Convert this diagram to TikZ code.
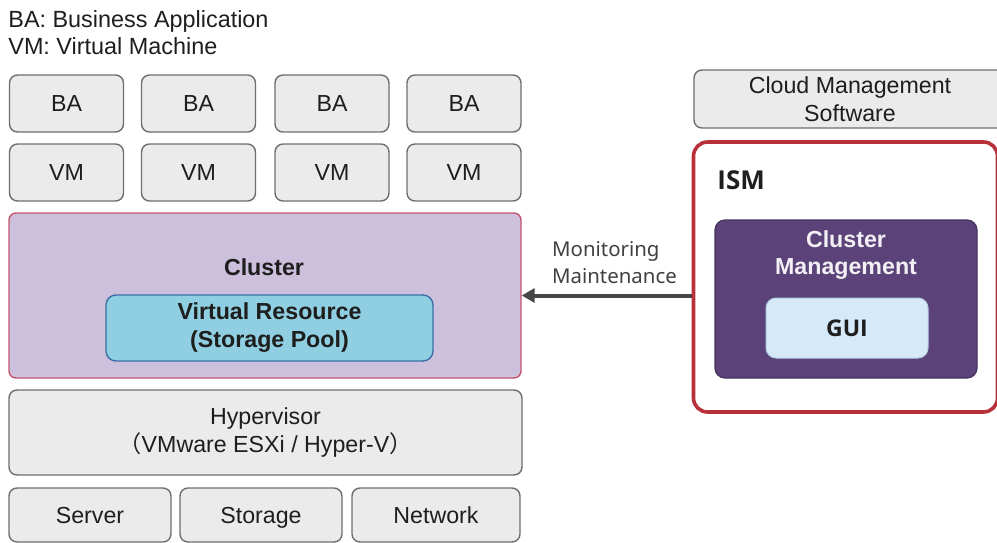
\documentclass[tikz,border=0pt]{standalone}
\usepackage{fontspec}
\setmainfont{Liberation Sans}
\newfontfamily\notofont{Noto Sans}
\newfontfamily\openfont{Open Sans}
\newfontfamily\cjk{Noto Sans CJK JP}
\usetikzlibrary{arrows.meta, positioning}

\definecolor{boxfill}{HTML}{EBEBEB}
\definecolor{boxline}{HTML}{6E6E6E}
\definecolor{ink}{HTML}{1E1E1E}
\definecolor{clusterfill}{HTML}{CCC0DC}
\definecolor{clusterline}{HTML}{C2566E}
\definecolor{poolfill}{HTML}{8FCFE1}
\definecolor{poolline}{HTML}{3C6FA4}
\definecolor{ismline}{HTML}{B8303A}
\definecolor{mgmtfill}{HTML}{5B4279}
\definecolor{mgmtline}{HTML}{45325E}
\definecolor{guifill}{HTML}{D6E9F9}
\definecolor{guiline}{HTML}{B4CDE4}
\definecolor{arrowgray}{HTML}{474747}

\newcommand{\bodyfont}{\fontsize{11.6}{14}\selectfont}

\begin{document}
\begin{tikzpicture}[
  x=0.5pt, y=-0.5pt,
  box/.style={draw=boxline, fill=boxfill, rounded corners=4pt, line width=0.7pt,
              inner sep=0pt, align=center, text=ink, font=\bodyfont},
  oneline/.style={text height=8.4pt, text depth=0.3pt},
  cluster/.style={draw=clusterline, fill=clusterfill, rounded corners=3.5pt,
              line width=0.7pt, inner sep=0pt},
  pool/.style={draw=poolline, fill=poolfill, rounded corners=5pt, line width=0.7pt,
              inner sep=0pt, align=center, text=ink, font=\bodyfont\bfseries},
  ism/.style={draw=ismline, rounded corners=7pt, line width=1.8pt, inner sep=0pt},
  mgmt/.style={draw=mgmtline, fill=mgmtfill, rounded corners=5pt, line width=0.6pt,
              inner sep=0pt},
  gui/.style={draw=guiline, fill=guifill, rounded corners=5pt, line width=0.5pt,
              inner sep=0pt, align=center, text=ink, font=\openfont\fontsize{11.5}{14}\selectfont\bfseries},
  arr/.style={-{Triangle[length=6.5pt, width=7pt]}, line width=2pt, draw=arrowgray}
]
  \useasboundingbox (0,0) rectangle (997,542);
  \clip (0,0) rectangle (997,542);

  % legend
  \node[anchor=north west, align=left, inner sep=0pt, text=ink,
        font=\fontsize{11.7}{13.5}\selectfont] (legend) at (8,10)
        {BA: Business Application\\VM: Virtual Machine};

  % application and VM rows
  \foreach \i/\cx in {1/66.5, 2/198.5, 3/332, 4/464} {
    \node[box, oneline, minimum width=57pt, minimum height=28.5pt] (ba\i) at (\cx,103.5) {BA};
    \node[box, oneline, minimum width=57pt, minimum height=28.5pt] (vm\i) at (\cx,172.5) {VM};
  }

  % cluster
  \node[cluster, minimum width=256pt, minimum height=82.5pt] (cl) at (265,295.5) {};
  \node[font=\bodyfont\bfseries, text=ink] (cltitle) at (264,267) {Cluster};
  \node[pool, minimum width=163.5pt, minimum height=33pt] (vr) at (269.5,328)
        {Virtual Resource\\(Storage Pool)};

  % hypervisor and hardware
  \node[box, minimum width=256.5pt, minimum height=42.5pt] (hv) at (265.5,432.5)
        {Hypervisor\\{\cjk （}VMware ESXi / Hyper-V{\cjk ）}};
  \node[box, oneline, minimum width=81pt, minimum height=27pt] (srv) at (90,515) {Server};
  \node[box, oneline, minimum width=81pt, minimum height=27pt] (sto) at (261,515) {Storage};
  \node[box, oneline, minimum width=84pt, minimum height=27pt] (net) at (436,515) {Network};

  % right side
  \node[box, minimum width=156pt, minimum height=29pt] (cms) at (850,99)
        {Cloud Management\\Software};
  \node[ism, minimum width=152pt, minimum height=135pt] (ism) at (845.5,277) {};
  \node[anchor=west, inner sep=0pt, text=ink,
        font=\openfont\fontsize{13}{15}\selectfont\bfseries] (ismtitle) at (717,180) {ISM};
  \node[mgmt, minimum width=131pt, minimum height=79pt] (cm) at (846,299) {};
  \node[align=center, text=white!92!mgmtfill, font=\fontsize{11.6}{13.5}\selectfont\bfseries]
        (cmtitle) at (846,255) {Cluster\\Management};
  \node[gui, minimum width=81pt, minimum height=30pt] (gui) at (847,328) {GUI};

  % monitoring link
  \draw[arr] (cl.east -| ism.west) -- (cl.east);
  \node[align=left, inner sep=0pt, text=ink!85,
        font=\notofont\fontsize{10.2}{13.5}\selectfont] (mon) at (614.5,263)
        {Monitoring\\Maintenance};
\end{tikzpicture}
\end{document}
